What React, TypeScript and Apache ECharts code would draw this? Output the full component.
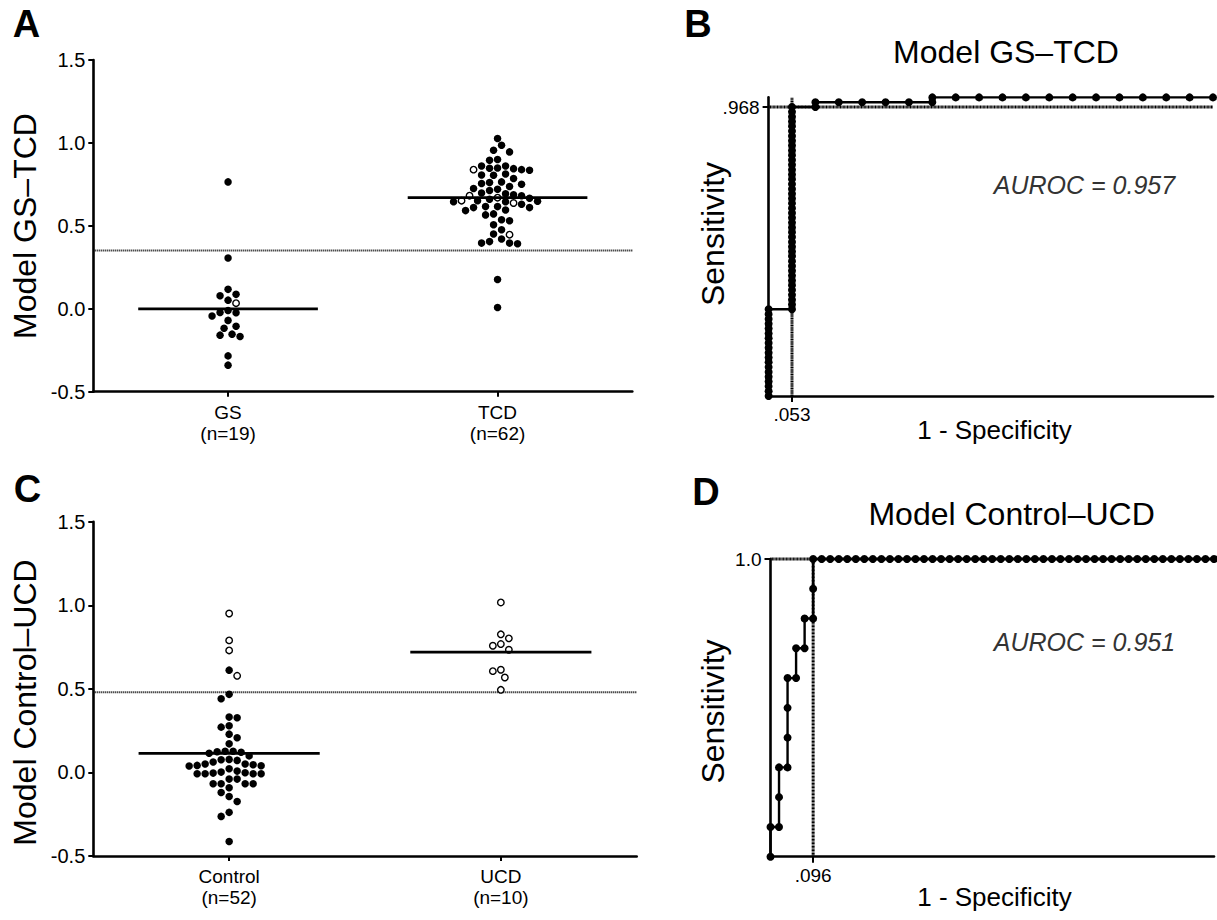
import React, { useEffect, useRef } from 'react';
import * as echarts from 'echarts';

const FONT = '"Liberation Sans", Arial, Helvetica, sans-serif';

// ---------- Panel A : Model GS–TCD scores ----------
const catA = ['GS', 'TCD'];
const nA = [19, 62];
const gsFilled = [0.765, 0.306, 0.117, 0.087, 0.079, 0.052, -0.022, -0.024, -0.010, -0.044, -0.070, -0.105, -0.117, -0.153, -0.159, -0.167, -0.284, -0.340];
const gsOpen = [0.034];
const tcdFilled = [
  1.027, 0.986, 0.956, 0.946, 0.900, 0.896, 0.861, 0.861,
  0.849, 0.847, 0.845, 0.839, 0.835,
  0.813, 0.807, 0.805,
  0.785,
  0.765, 0.761, 0.755, 0.751, 0.737,
  0.725, 0.721, 0.713, 0.698, 0.694, 0.688,
  0.682, 0.666, 0.660, 0.652, 0.648, 0.646, 0.646,
  0.630, 0.616, 0.616, 0.610, 0.610, 0.596, 0.592,
  0.572, 0.566,
  0.537, 0.531,
  0.507, 0.477,
  0.451,
  0.421, 0.405,
  0.396, 0.396, 0.392,
  0.177, 0.008,
];
const tcdOpen = [0.839, 0.682, 0.670, 0.652, 0.638, 0.447];
const medianA = [0.0, 0.67];
const cutoffA = 0.352;
const yTicksA = [-0.5, 1.5, 0.5]; // min, max, interval

// ---------- Panel C : Model Control–UCD scores ----------
const catC = ['Control', 'UCD'];
const nC = [52, 10];
const controlFilled = [
  0.612, 0.467, 0.441, 0.331, 0.327, 0.279, 0.271, 0.229, 0.207, 0.171,
  0.127, 0.127, 0.124, 0.121, 0.115, 0.099,
  0.078, 0.076, 0.072, 0.062,
  0.050, 0.050, 0.046, 0.042, 0.040,
  0.038, 0.022,
  0.008, 0.002, -0.002, -0.004,
  -0.008, -0.008, -0.008, -0.008,
  -0.040, -0.040,
  -0.068, -0.068, -0.068, -0.068,
  -0.092, -0.120, -0.144, -0.174, -0.239, -0.263, -0.413,
];
const controlOpen = [0.951, 0.790, 0.730, 0.578];
const ucdFilled: number[] = [];
const ucdOpen = [1.017, 0.826, 0.802, 0.768, 0.758, 0.734, 0.614, 0.606, 0.568, 0.494];
const medianC = [0.114, 0.72];
const cutoffC = 0.479;

// ---------- Panel B : ROC, GS (negatives, n=19) vs TCD (positives, n=62) ----------
const negB = 19;
const posB = 62;
const rocB_fp = [
  0, 0, 0, 0, 0, 0, 0, 0, 0, 0, 0, 0, 0, 0, 0, 0, 0, 0, 0,
  1, 1, 1, 1, 1, 1, 1, 1, 1, 1, 1, 1, 1, 1, 1, 1, 1, 1, 1, 1, 1, 1, 1, 1, 1, 1, 1, 1, 1, 1, 1, 1, 1, 1, 1, 1, 1, 1, 1, 1, 1, 1, 1,
  2, 2, 3, 4, 5, 6, 7, 7, 8, 9, 10, 11, 12, 13, 14, 15, 16, 17, 18, 19,
];
const rocB_tp = [
  0, 1, 2, 3, 4, 5, 6, 7, 8, 9, 10, 11, 12, 13, 14, 15, 16, 17, 18,
  18, 19, 20, 21, 22, 23, 24, 25, 26, 27, 28, 29, 30, 31, 32, 33, 34, 35, 36, 37, 38, 39, 40, 41, 42, 43, 44, 45, 46, 47, 48, 49, 50, 51, 52, 53, 54, 55, 56, 57, 58, 59, 60,
  60, 61, 61, 61, 61, 61, 61, 62, 62, 62, 62, 62, 62, 62, 62, 62, 62, 62, 62, 62,
];
const cutB = [1, 60]; // [fp count, tp count] at the chosen cut-off
const aurocB = '0.957';

// ---------- Panel D : ROC, Control (negatives, n=52) vs UCD (positives, n=10) ----------
const negD = 52;
const posD = 10;
const rocD_fp = [
  0, 0, 1, 1, 1, 2, 2, 2, 2, 3, 3, 4, 4, 5, 5, 5,
  6, 7, 8, 9, 10, 11, 12, 13, 14, 15, 16, 17, 18, 19, 20, 21, 22, 23, 24, 25, 26, 27, 28, 29, 30,
  31, 32, 33, 34, 35, 36, 37, 38, 39, 40, 41, 42, 43, 44, 45, 46, 47, 48, 49, 50, 51, 52,
];
const rocD_tp = [
  0, 1, 1, 2, 3, 3, 4, 5, 6, 6, 7, 7, 8, 8, 9, 10,
  10, 10, 10, 10, 10, 10, 10, 10, 10, 10, 10, 10, 10, 10, 10, 10, 10, 10, 10, 10, 10, 10, 10, 10, 10,
  10, 10, 10, 10, 10, 10, 10, 10, 10, 10, 10, 10, 10, 10, 10, 10, 10, 10, 10, 10, 10, 10,
];
const cutD = [5, 10];
const aurocD = '0.951';

// ---------- layout ----------
const GA = { left: 93.3, top: 60, width: 539, height: 331.7 };
const GC = { left: 93.3, top: 521.7, width: 543.4, height: 334.3 };
const GB = { left: 768.6, top: 97.4, width: 444.4, height: 298.6 };
const GD = { left: 770.5, top: 559, width: 443.5, height: 297.7 };

function swarm(values: number[], pxX: number, pxY: number): number[] {
  const d = 7.8;
  const step = 4;
  const idx = values.map((_, i) => i).sort((a, b) => values[b] - values[a]);
  const placed: { x: number; y: number }[] = [];
  const off = new Array(values.length).fill(0);
  let flip = 1;
  for (const i of idx) {
    const y = values[i] * pxY;
    for (let k = 0; k < 200; k++) {
      const cands = k === 0 ? [0] : [flip * k * step, -flip * k * step];
      const ok = cands.find((c) => placed.every((p) => (p.x - c) ** 2 + (p.y - y) ** 2 >= d * d));
      if (ok !== undefined) {
        placed.push({ x: ok, y });
        off[i] = ok / pxX;
        if (ok !== 0) flip = -flip;
        break;
      }
    }
  }
  return off;
}

function groupPoints(filled: number[], open: number[], cat: number, grid: { width: number; height: number }) {
  const all = [...filled, ...open];
  const off = swarm(all, grid.width / 2, grid.height / 2);
  const f: number[][] = [];
  const o: number[][] = [];
  all.forEach((v, i) => {
    const p = [cat + off[i], v];
    if (i < filled.length) f.push(p);
    else o.push(p);
  });
  return { f, o };
}

const fmtFrac = (v: number) => v.toFixed(3).replace(/^0/, '');

export default function App() {
  const ref = useRef<HTMLDivElement>(null);

  useEffect(() => {
    if (!ref.current) return;
    const chart = echarts.init(ref.current, undefined, { renderer: 'svg' });

    const gs = groupPoints(gsFilled, gsOpen, 0, GA);
    const tcd = groupPoints(tcdFilled, tcdOpen, 1, GA);
    const ctl = groupPoints(controlFilled, controlOpen, 0, GC);
    const ucd = groupPoints(ucdFilled, ucdOpen, 1, GC);

    const axisLine = { show: true, onZero: false, lineStyle: { color: '#000', width: 2.6 } };
    const tickLabel = { color: '#000', fontSize: 19, fontFamily: FONT };

    const catAxis = (grid: number, cats: string[], ns: number[]) => ({
      type: 'category',
      gridIndex: grid,
      data: cats.map((c, i) => `${c}\n(n=${ns[i]})`),
      boundaryGap: true,
      axisLine,
      axisTick: { show: true, alignWithLabel: true, length: 5, lineStyle: { color: '#000', width: 2 } },
      axisLabel: { ...tickLabel, margin: 10, lineHeight: 21 },
      splitLine: { show: false },
    });
    const hiddenX = (grid: number) => ({ type: 'value', gridIndex: grid, min: -0.5, max: 1.5, show: false, axisLine: { onZero: false } });
    const scoreY = (grid: number) => ({
      type: 'value',
      gridIndex: grid,
      min: yTicksA[0],
      max: yTicksA[1],
      interval: yTicksA[2],
      axisLine,
      axisTick: { show: true, length: 5, lineStyle: { color: '#000', width: 2 } },
      axisLabel: { ...tickLabel, fontSize: 20, margin: 8, formatter: (v: number) => v.toFixed(1) },
      splitLine: { show: false },
    });
    const rocAxis = (grid: number, cut: number, fmt: (v: number) => string) => ({
      type: 'value',
      gridIndex: grid,
      min: 0,
      max: 1,
      axisLine,
      axisTick: { show: true, length: 6, customValues: [cut], lineStyle: { color: '#000', width: 2 } },
      axisLabel: { ...tickLabel, margin: 9, customValues: [cut], formatter: fmt },
      splitLine: { show: false },
    });

    const filledSeries = (xi: number, yi: number, data: number[][]) => ({
      type: 'scatter', xAxisIndex: xi, yAxisIndex: yi, data, symbol: 'circle', symbolSize: 7.5,
      itemStyle: { color: '#000', opacity: 1 }, silent: true, z: 3,
    });
    const openSeries = (xi: number, yi: number, data: number[][]) => ({
      type: 'scatter', xAxisIndex: xi, yAxisIndex: yi, data, symbol: 'circle', symbolSize: 6.5,
      itemStyle: { color: '#fff', borderColor: '#000', borderWidth: 1.4, opacity: 1 }, silent: true, z: 3,
    });
    const seg = (xi: number, yi: number, data: number[][], style: any, z = 4) => ({
      type: 'line', xAxisIndex: xi, yAxisIndex: yi, data, symbol: 'none', silent: true, clip: false, z,
      lineStyle: style,
    });
    const medianStyle = { color: '#000', width: 2.8 };
    // dash arrays are scaled by the line width
    const cutStyle = { color: '#000', width: 2, type: [1, 1] };
    const refStyle = { color: '#000', width: 3, type: [1, 0.4] };

    const rocB = rocB_fp.map((f, i) => [f / negB, rocB_tp[i] / posB]);
    const rocD = rocD_fp.map((f, i) => [f / negD, rocD_tp[i] / posD]);
    const cbx = cutB[0] / negB, cby = cutB[1] / posB;
    const cdx = cutD[0] / negD, cdy = cutD[1] / posD;

    const rocSeries = (xi: number, yi: number, data: number[][]) => ({
      type: 'line', xAxisIndex: xi, yAxisIndex: yi, data, symbol: 'circle', symbolSize: 8, showSymbol: true,
      showAllSymbol: true, clip: false, silent: true, z: 5,
      itemStyle: { color: '#000', opacity: 1 }, lineStyle: { color: '#000', width: 2.4 },
    });

    const txt = (text: string, x: number, y: number, size: number, extra: any = {}) => ({
      type: 'text', x, y, silent: true, ...extra,
      style: { text, fontSize: size, fontFamily: FONT, fill: '#000', align: 'center', verticalAlign: 'middle', ...(extra.style || {}) },
    });
    const letter = (t: string, x: number, y: number) => txt(t, x, y, 38, { style: { fontWeight: 'bold' } });
    const titleB = `Model ${catA[0]}\u2013${catA[1]}`;
    const titleD = `Model ${catC[0]}\u2013${catC[1]}`;

    chart.setOption({
      animation: false,
      textStyle: { fontFamily: FONT },
      grid: [GA, GC, GB, GD].map((g) => ({ ...g, containLabel: false, outerBoundsMode: 'none' })),
      xAxis: [
        catAxis(0, catA, nA),
        hiddenX(0),
        catAxis(1, catC, nC),
        hiddenX(1),
        rocAxis(2, cbx, fmtFrac),
        rocAxis(3, cdx, fmtFrac),
      ],
      yAxis: [
        scoreY(0),
        scoreY(1),
        rocAxis(2, cby, fmtFrac),
        rocAxis(3, cdy, (v: number) => v.toFixed(1)),
      ],
      series: [
        // Panel A
        seg(1, 0, [[-0.5, cutoffA], [1.5, cutoffA]], cutStyle, 2),
        filledSeries(1, 0, [...gs.f, ...tcd.f]),
        openSeries(1, 0, [...gs.o, ...tcd.o]),
        seg(1, 0, [[0 - 1 / 3, medianA[0]], [0 + 1 / 3, medianA[0]]], medianStyle),
        seg(1, 0, [[1 - 1 / 3, medianA[1]], [1 + 1 / 3, medianA[1]]], medianStyle),
        // Panel C
        seg(3, 1, [[-0.5, cutoffC], [1.5, cutoffC]], cutStyle, 2),
        filledSeries(3, 1, [...ctl.f, ...ucd.f]),
        openSeries(3, 1, [...ctl.o, ...ucd.o]),
        seg(3, 1, [[0 - 1 / 3, medianC[0]], [0 + 1 / 3, medianC[0]]], medianStyle),
        seg(3, 1, [[1 - 1 / 3, medianC[1]], [1 + 1 / 3, medianC[1]]], medianStyle),
        // Panel B
        seg(4, 2, [[cbx, 0], [cbx, 1]], refStyle, 2),
        seg(4, 2, [[0, cby], [1, cby]], refStyle, 2),
        rocSeries(4, 2, rocB),
        // Panel D
        seg(5, 3, [[cdx, 0], [cdx, 1]], refStyle, 2),
        seg(5, 3, [[0, cdy], [1, cdy]], refStyle, 2),
        rocSeries(5, 3, rocD),
      ],
      graphic: [
        letter('A', 26.5, 24),
        letter('B', 698, 24),
        letter('C', 27.5, 489),
        letter('D', 706, 492),
        txt(titleB, 1006, 52, 32),
        txt(titleD, 1011.6, 514, 32),
        txt(titleB, 25, 226, 32, { rotation: Math.PI / 2 }),
        txt(titleD, 25, 702.5, 32, { rotation: Math.PI / 2 }),
        txt('Sensitivity', 713, 234, 32, { rotation: Math.PI / 2 }),
        txt('Sensitivity', 713, 711.5, 32, { rotation: Math.PI / 2 }),
        txt('1 - Specificity', 994.5, 430, 26),
        txt('1 - Specificity', 994.5, 896.7, 26),
        txt(`AUROC = ${aurocB}`, 1084.5, 185, 25, { style: { fontStyle: 'italic', fill: '#333' } }),
        txt(`AUROC = ${aurocD}`, 1084.5, 641.7, 25, { style: { fontStyle: 'italic', fill: '#333' } }),
      ],
    });

    return () => chart.dispose();
  }, []);

  return (
    <div
      ref={ref}
      style={{ position: 'absolute', left: 0, top: 0, width: 1217, height: 920, background: '#fff' }}
    />
  );
}
